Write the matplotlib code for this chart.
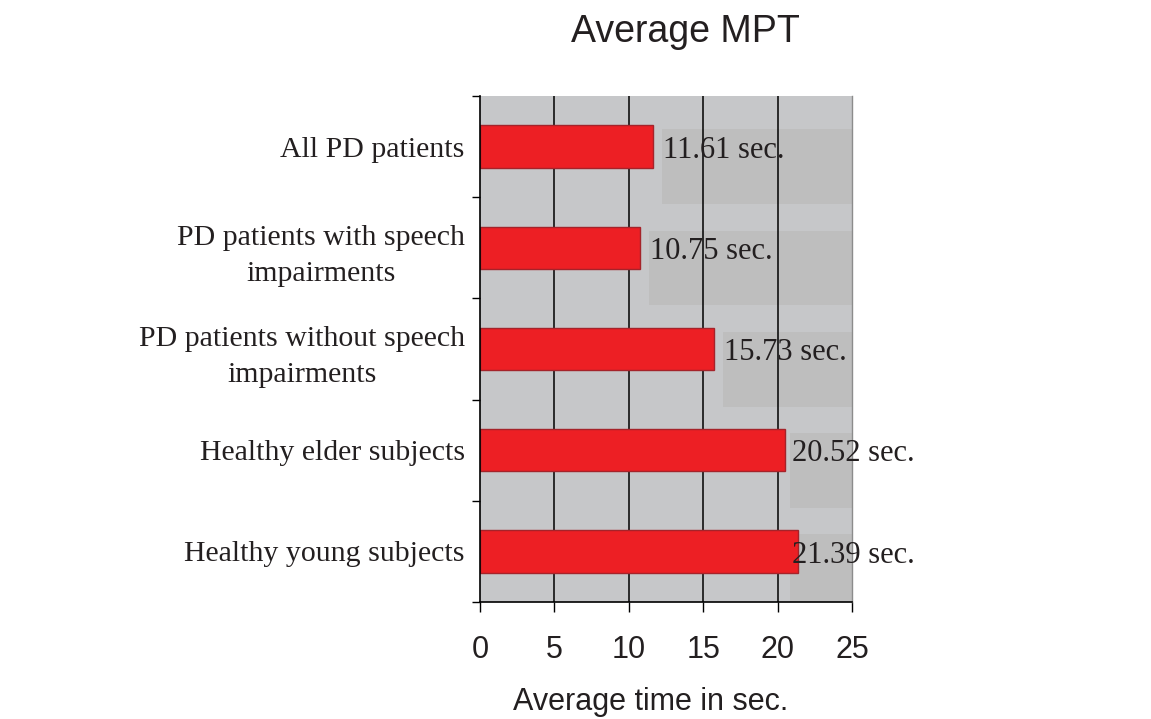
import matplotlib
matplotlib.use("Agg")
import matplotlib.pyplot as plt
from matplotlib.patches import Rectangle
from matplotlib.ticker import FixedLocator, NullFormatter

categories = [
    "All PD patients",
    "PD patients with speech\nimpairments",
    "PD patients without speech\nimpairments",
    "Healthy elder subjects",
    "Healthy young subjects",
]
values = [11.61, 10.75, 15.73, 20.52, 21.39]
value_labels = ["11.61 sec.", "10.75 sec.", "15.73 sec.", "20.52 sec.", "21.39 sec."]
xticks = [0, 5, 10, 15, 20, 25]
title = "Average MPT"
xlabel = "Average time in sec."

SERIF = "Liberation Serif"
SANS = "Liberation Sans"

fig = plt.figure(figsize=(11.51, 7.19), dpi=100)
ax = fig.add_axes([480 / 1151, 1 - 602 / 719, 372 / 1151, 506 / 719])
ax.set_facecolor("#c6c7c9")

n = len(categories)
ypos = list(range(n))
ax.set_xlim(0, 25)
ax.set_ylim(n - 0.5, -0.5)

# label background boxes
for i, v in enumerate(values):
    xl = min(v + 0.6, 20.85)
    ax.add_patch(Rectangle((xl, i - 0.17), 25 - xl, 0.74, facecolor="#bebebe",
                           edgecolor="none", zorder=0.3))

# grid lines
for t in xticks[1:-1]:
    ax.axvline(t, color="black", lw=1.1, zorder=0.6)

ax.barh(ypos, values, height=0.42, color="#ed1f24", edgecolor="#a5232a",
        linewidth=1.0, zorder=2)

for i, (v, lab) in enumerate(zip(values, value_labels)):
    xl = min(v + 0.6, 20.85)
    ax.text(xl + 0.1, i + 0.11, lab, fontfamily=SERIF, fontsize=22,
            color="#231f20", ha="left", va="baseline", zorder=3, clip_on=False)

# axes styling
ax.spines["top"].set_visible(False)
ax.spines["right"].set_color("#8c8c8c")
ax.spines["right"].set_linewidth(1.0)
ax.spines["left"].set_color("black")
ax.spines["bottom"].set_color("black")
ax.spines["left"].set_linewidth(1.2)
ax.spines["bottom"].set_linewidth(1.2)

ax.set_xticks(xticks)
ax.set_xticklabels([str(t) for t in xticks], fontfamily=SANS, fontsize=22,
                   color="#231f20")
ax.tick_params(axis="x", direction="out", length=7.5, width=1.0, pad=16)

ax.set_yticks(ypos)
ax.set_yticklabels(categories, fontfamily=SERIF, fontsize=21.5, color="#231f20",
                   multialignment="center", linespacing=1.5)
ax.tick_params(axis="y", which="major", length=0, pad=11)
ax.yaxis.set_minor_locator(FixedLocator([i - 0.5 for i in range(n + 1)]))
ax.yaxis.set_minor_formatter(NullFormatter())
ax.tick_params(axis="y", which="minor", direction="out", length=6, width=1.0)

fig.text(685 / 1151, 1 - 42 / 719, title, fontfamily=SANS, fontsize=27,
         color="#231f20", ha="center", va="baseline")
fig.text(651 / 1151, 1 - 710 / 719, xlabel, fontfamily=SANS, fontsize=22,
         color="#231f20", ha="center", va="baseline")

fig.savefig("out.png", dpi=100, facecolor="white")
